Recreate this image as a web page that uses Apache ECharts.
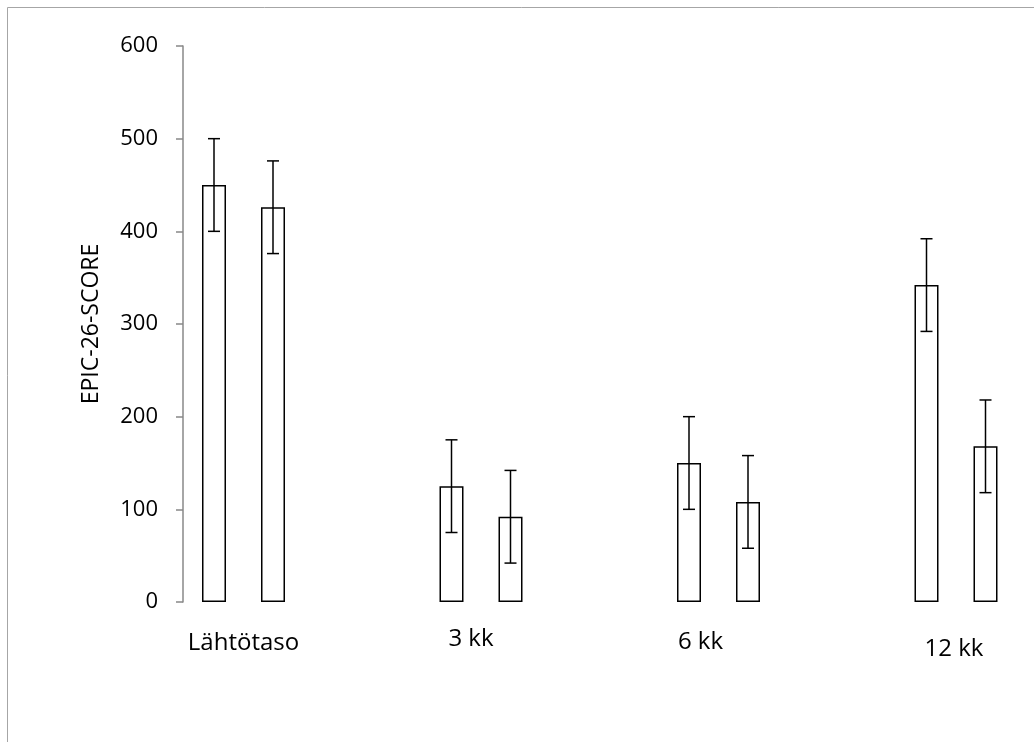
<!DOCTYPE html>
<html>
<head>
<meta charset="utf-8">
<script src="https://cdn.jsdelivr.net/npm/echarts@6/dist/echarts.min.js"></script>
<style>
  html, body { margin: 0; padding: 0; background: #fff; }
  #chart { width: 1034px; height: 742px; }
</style>
</head>
<body>
<div id="chart"></div>
<script>
const categories = ['Lähtötaso', '3 kk', '6 kk', '12 kk'];
const seriesA = [450, 125, 150, 342];
const seriesB = [426, 92, 108, 168];
const errorsA = [50, 50, 50, 50];
const errorsB = [50, 50, 50, 50];
const yTicks = [0, 100, 200, 300, 400, 500, 600];
const yAxisName = 'EPIC-26-SCORE';

const BAR_W = 24;
const BAR_GAP_PX = 35;
const FONT = '"Open Sans", "Noto Sans", sans-serif';

function errData(vals, errs) {
  return vals.map((v, i) => [i, v - errs[i], v + errs[i]]);
}

function errorRender(sign) {
  return function (params, api) {
    const cat = api.value(0);
    const lo = api.value(1), hi = api.value(2);
    const pHi = api.coord([cat, hi]);
    const pLo = api.coord([cat, lo]);
    const x = pHi[0] + sign * (BAR_W + BAR_GAP_PX) / 2;
    const cap = 6;
    const style = { stroke: '#000', lineWidth: 1.5 };
    return {
      type: 'group',
      children: [
        { type: 'line', shape: { x1: x, y1: pHi[1], x2: x, y2: pLo[1] }, style },
        { type: 'line', shape: { x1: x - cap, y1: pHi[1], x2: x + cap, y2: pHi[1] }, style },
        { type: 'line', shape: { x1: x - cap, y1: pLo[1], x2: x + cap, y2: pLo[1] }, style }
      ]
    };
  };
}

const chart = echarts.init(document.getElementById('chart'), null, { renderer: 'canvas' });
const labelBase = { fontSize: 24, fontFamily: FONT, color: '#000' };
chart.setOption({
  backgroundColor: '#fff',
  animation: false,
  graphic: [{
    type: 'rect',
    shape: { x: 7.5, y: 7.5, width: 1200, height: 900 },
    style: { fill: 'none', stroke: '#a6a6a6', lineWidth: 1 },
    silent: true
  }],
  grid: { left: 124.75, width: 950, top: 46, bottom: 140, containLabel: false, outerBoundsMode: 'none' },
  xAxis: {
    type: 'category',
    data: categories,
    boundaryGap: true,
    axisLine: { show: false },
    axisTick: { show: false },
    splitLine: { show: false },
    axisLabel: {
      interval: 0,
      margin: 25,
      formatter: (v, i) => '{c' + i + '|' + v + '}',
      rich: {
        c0: Object.assign({ padding: [4, 0, 0, 0] }, labelBase),
        c1: Object.assign({ padding: [0, 20, 0, 0] }, labelBase),
        c2: Object.assign({ padding: [3, 36, 0, 0] }, labelBase),
        c3: Object.assign({ padding: [10, 4, 0, 0] }, labelBase)
      }
    }
  },
  yAxis: {
    type: 'value',
    min: yTicks[0],
    max: yTicks[yTicks.length - 1],
    interval: yTicks[1] - yTicks[0],
    offset: -58.25,
    name: yAxisName,
    nameLocation: 'middle',
    nameGap: 80,
    nameRotate: 90,
    nameTextStyle: { fontSize: 23, fontFamily: FONT, color: '#000' },
    axisLine: { show: true, lineStyle: { color: '#888', width: 1.5 } },
    axisTick: { show: true, inside: false, length: 7, lineStyle: { color: '#888', width: 1.5 } },
    axisLabel: { fontSize: 22, fontFamily: FONT, color: '#000', margin: 25 },
    splitLine: { show: false }
  },
  series: [
    {
      type: 'bar',
      data: seriesA,
      barWidth: BAR_W,
      barGap: (BAR_GAP_PX / BAR_W * 100) + '%',
      itemStyle: { color: '#fff', borderColor: '#000', borderWidth: 1.5 }
    },
    {
      type: 'bar',
      data: seriesB,
      barWidth: BAR_W,
      barGap: (BAR_GAP_PX / BAR_W * 100) + '%',
      itemStyle: { color: '#fff', borderColor: '#000', borderWidth: 1.5 }
    },
    {
      type: 'custom',
      renderItem: errorRender(-1),
      data: errData(seriesA, errorsA),
      encode: { x: 0, y: [1, 2] },
      z: 5
    },
    {
      type: 'custom',
      renderItem: errorRender(1),
      data: errData(seriesB, errorsB),
      encode: { x: 0, y: [1, 2] },
      z: 5
    }
  ]
});
</script>
</body>
</html>
